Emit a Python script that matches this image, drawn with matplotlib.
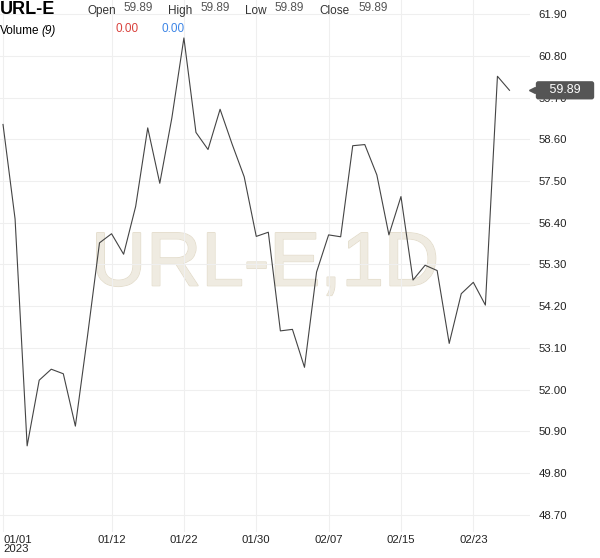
import matplotlib
matplotlib.use("Agg")
import matplotlib.pyplot as plt
import matplotlib.transforms as mtransforms
import matplotlib.patheffects as pe
import numpy as np

plt.rcParams['font.family'] = ['Liberation Sans', 'DejaVu Sans']

# daily closes
closes = [58.99, 56.50, 50.52, 52.25, 52.54, 52.42, 51.04, 53.40, 55.87, 56.11,
          55.57, 56.83, 58.90, 57.44, 59.16, 61.27, 58.78, 58.33, 59.39, 58.47,
          57.61, 56.04, 56.15, 53.55, 53.59, 52.59, 55.10, 56.08, 56.03, 58.43,
          58.46, 57.66, 56.08, 57.09, 54.89, 55.28, 55.14, 53.22, 54.53, 54.83,
          54.23, 60.26, 59.89]
date_labels = ['01/01\n2023', '01/12', '01/22', '01/30', '02/07', '02/15', '02/23']
date_index = [0, 9, 15, 21, 27, 33, 39]
price_ticks = [48.70, 49.80, 50.90, 52.00, 53.10, 54.20, 55.30, 56.40,
               57.50, 58.60, 59.70, 60.80, 61.90]
last_price = 59.89

fig = plt.figure(figsize=(6, 5.58), dpi=100)
ax = fig.add_axes([0, 26 / 558, 530 / 600, 532 / 558])

x = np.arange(len(closes))
ax.plot(x, closes, color='#444444', lw=0.8, zorder=3)

ax.set_xlim(-0.25, 43.7)
ax.set_ylim(48.25, 62.27)

for s in ax.spines.values():
    s.set_visible(False)

ax.yaxis.tick_right()
ax.set_yticks(price_ticks)
ax.set_yticklabels(['%.2f' % v for v in price_ticks])
ax.set_xticks(date_index)
ax.set_xticklabels(date_labels)
ax.tick_params(axis='y', length=0, pad=6, labelsize=8.2, labelcolor='#222222')
ax.tick_params(axis='x', length=0, pad=2, labelsize=8.2, labelcolor='#222222')
for lbl in ax.get_xticklabels():
    lbl.set_linespacing(0.85)
ax.get_xticklabels()[0].set_ha('left')
ax.grid(True, color='#efefef', lw=0.8, zorder=0)

# watermark
wm = ax.text(0.5, 0.5, 'URL-E,1D', transform=ax.transAxes, ha='center', va='center',
             fontsize=55, color='#efebe1', zorder=1)
wm.set_path_effects([pe.withStroke(linewidth=1.2, foreground='#e3dccb'), pe.Normal()])

# last price tag
trans = mtransforms.blended_transform_factory(ax.transAxes, ax.transData)
ax.text(1.0 + 35 / 530, last_price, '   59.89   ', transform=trans, ha='center', va='center',
        fontsize=9, color='white', zorder=5, clip_on=False,
        bbox=dict(boxstyle='round,pad=0.25,rounding_size=0.2', fc='#555555', ec='none'))
ax.plot([1.0 + 2 / 530], [last_price], marker='<', ms=5, color='#555555',
        transform=trans, clip_on=False, zorder=5)

# header
H = 558.0
W = 600.0
fig.text(0 / W, 1 - 10 / H, 'URL-E', fontsize=13, fontweight='bold', va='center', color='black')
hdr = [('Open', 87, 123), ('High', 168, 200), ('Low', 245, 274), ('Close', 319, 358)]
for name, px, vx in hdr:
    fig.text(px / W, 1 - 11 / H, name, fontsize=8.5, va='center', color='#333333')
    fig.text(vx / W, 1 - 8 / H, '59.89', fontsize=8.5, va='center', color='#555555')
fig.text(0 / W, 1 - 31 / H, 'Volume', fontsize=8.5, va='center', color='black')
fig.text(41 / W, 1 - 31 / H, '(9)', fontsize=8.5, va='center', color='black', style='italic')
fig.text(116 / W, 1 - 29 / H, '0.00', fontsize=8.5, va='center', color='#d9413c')
fig.text(161 / W, 1 - 29 / H, '0.00', fontsize=8.5, va='center', color='#3d85e6')

fig.savefig('out.png', dpi=100)
